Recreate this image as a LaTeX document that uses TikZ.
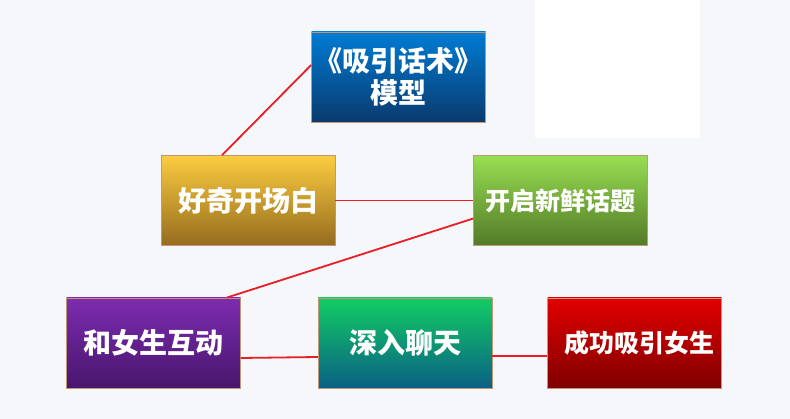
\documentclass[tikz,border=0pt]{standalone}
\usepackage{fontspec}
\newfontfamily\cjk{Noto Sans CJK SC}
\usetikzlibrary{positioning}

\definecolor{bgcol}{RGB}{246,247,250}
\definecolor{linkred}{RGB}{232,30,36}
\definecolor{edgecol}{RGB}{196,150,120}

\begin{document}
\begin{tikzpicture}[x=1pt, y=-1pt,
                    box/.style={rectangle, draw=edgecol, line width=0.6pt,
                                minimum width=174pt, minimum height=90pt, inner sep=0pt,
                                text=white, align=center, font=\cjk\bfseries\fontsize{28}{32}\selectfont},
                    small/.style={font=\cjk\bfseries\fontsize{25}{30}\selectfont},
                    link/.style={draw=linkred, line width=1.8pt}]
                    % background
                    \useasboundingbox (0,0) rectangle (790,419);
                    \fill[bgcol] (0,0) rectangle (790,419);
                    \fill[white] (535,0) rectangle (700,138);

                    \node[box, top color={rgb,255:red,0;green,124;blue,212}, bottom color={rgb,255:red,10;green,58;blue,110}]
                        (Model) at (398.5,77) {《吸引话术》\\模型};
                    \node[box, top color={rgb,255:red,252;green,204;blue,64}, bottom color={rgb,255:red,148;green,108;blue,30}]
                        (Opening) at (248,200.5) {好奇开场白};
                    \node[box, small, top color={rgb,255:red,152;green,222;blue,82}, bottom color={rgb,255:red,82;green,122;blue,40},
                        right=138pt of Opening] (Topic) {开启新鲜话题};

                    \node[box, top color={rgb,255:red,124;green,44;blue,176}, bottom color={rgb,255:red,72;green,22;blue,108}]
                        (Interact) at (153.5,343) {和女生互动};
                    \node[box, top color={rgb,255:red,18;green,204;blue,100}, bottom color={rgb,255:red,10;green,96;blue,132},
                        right=77pt of Interact] (Chat) {深入聊天};
                    \node[box, small, top color={rgb,255:red,226;green,0;blue,0}, bottom color={rgb,255:red,128;green,0;blue,0},
                        right=55pt of Chat] (Success) {\hspace{10pt}成功吸引女生};

                    % connectors
                    \draw[link] ([xshift=-26pt]Opening.north) -- ([yshift=12pt]Model.west);
                    \draw[link] (Opening) -- (Topic);
                    \draw[link] ([yshift=-18pt]Topic.west) -- ([xshift=73pt]Interact.north);
                    \draw[link] ([yshift=-15pt]Interact.east) -- ([yshift=-14pt]Chat.west);
                    \draw[link] ([yshift=-13pt]Chat.east) -- ([yshift=-13pt]Success.west);
\end{tikzpicture}
\end{document}
